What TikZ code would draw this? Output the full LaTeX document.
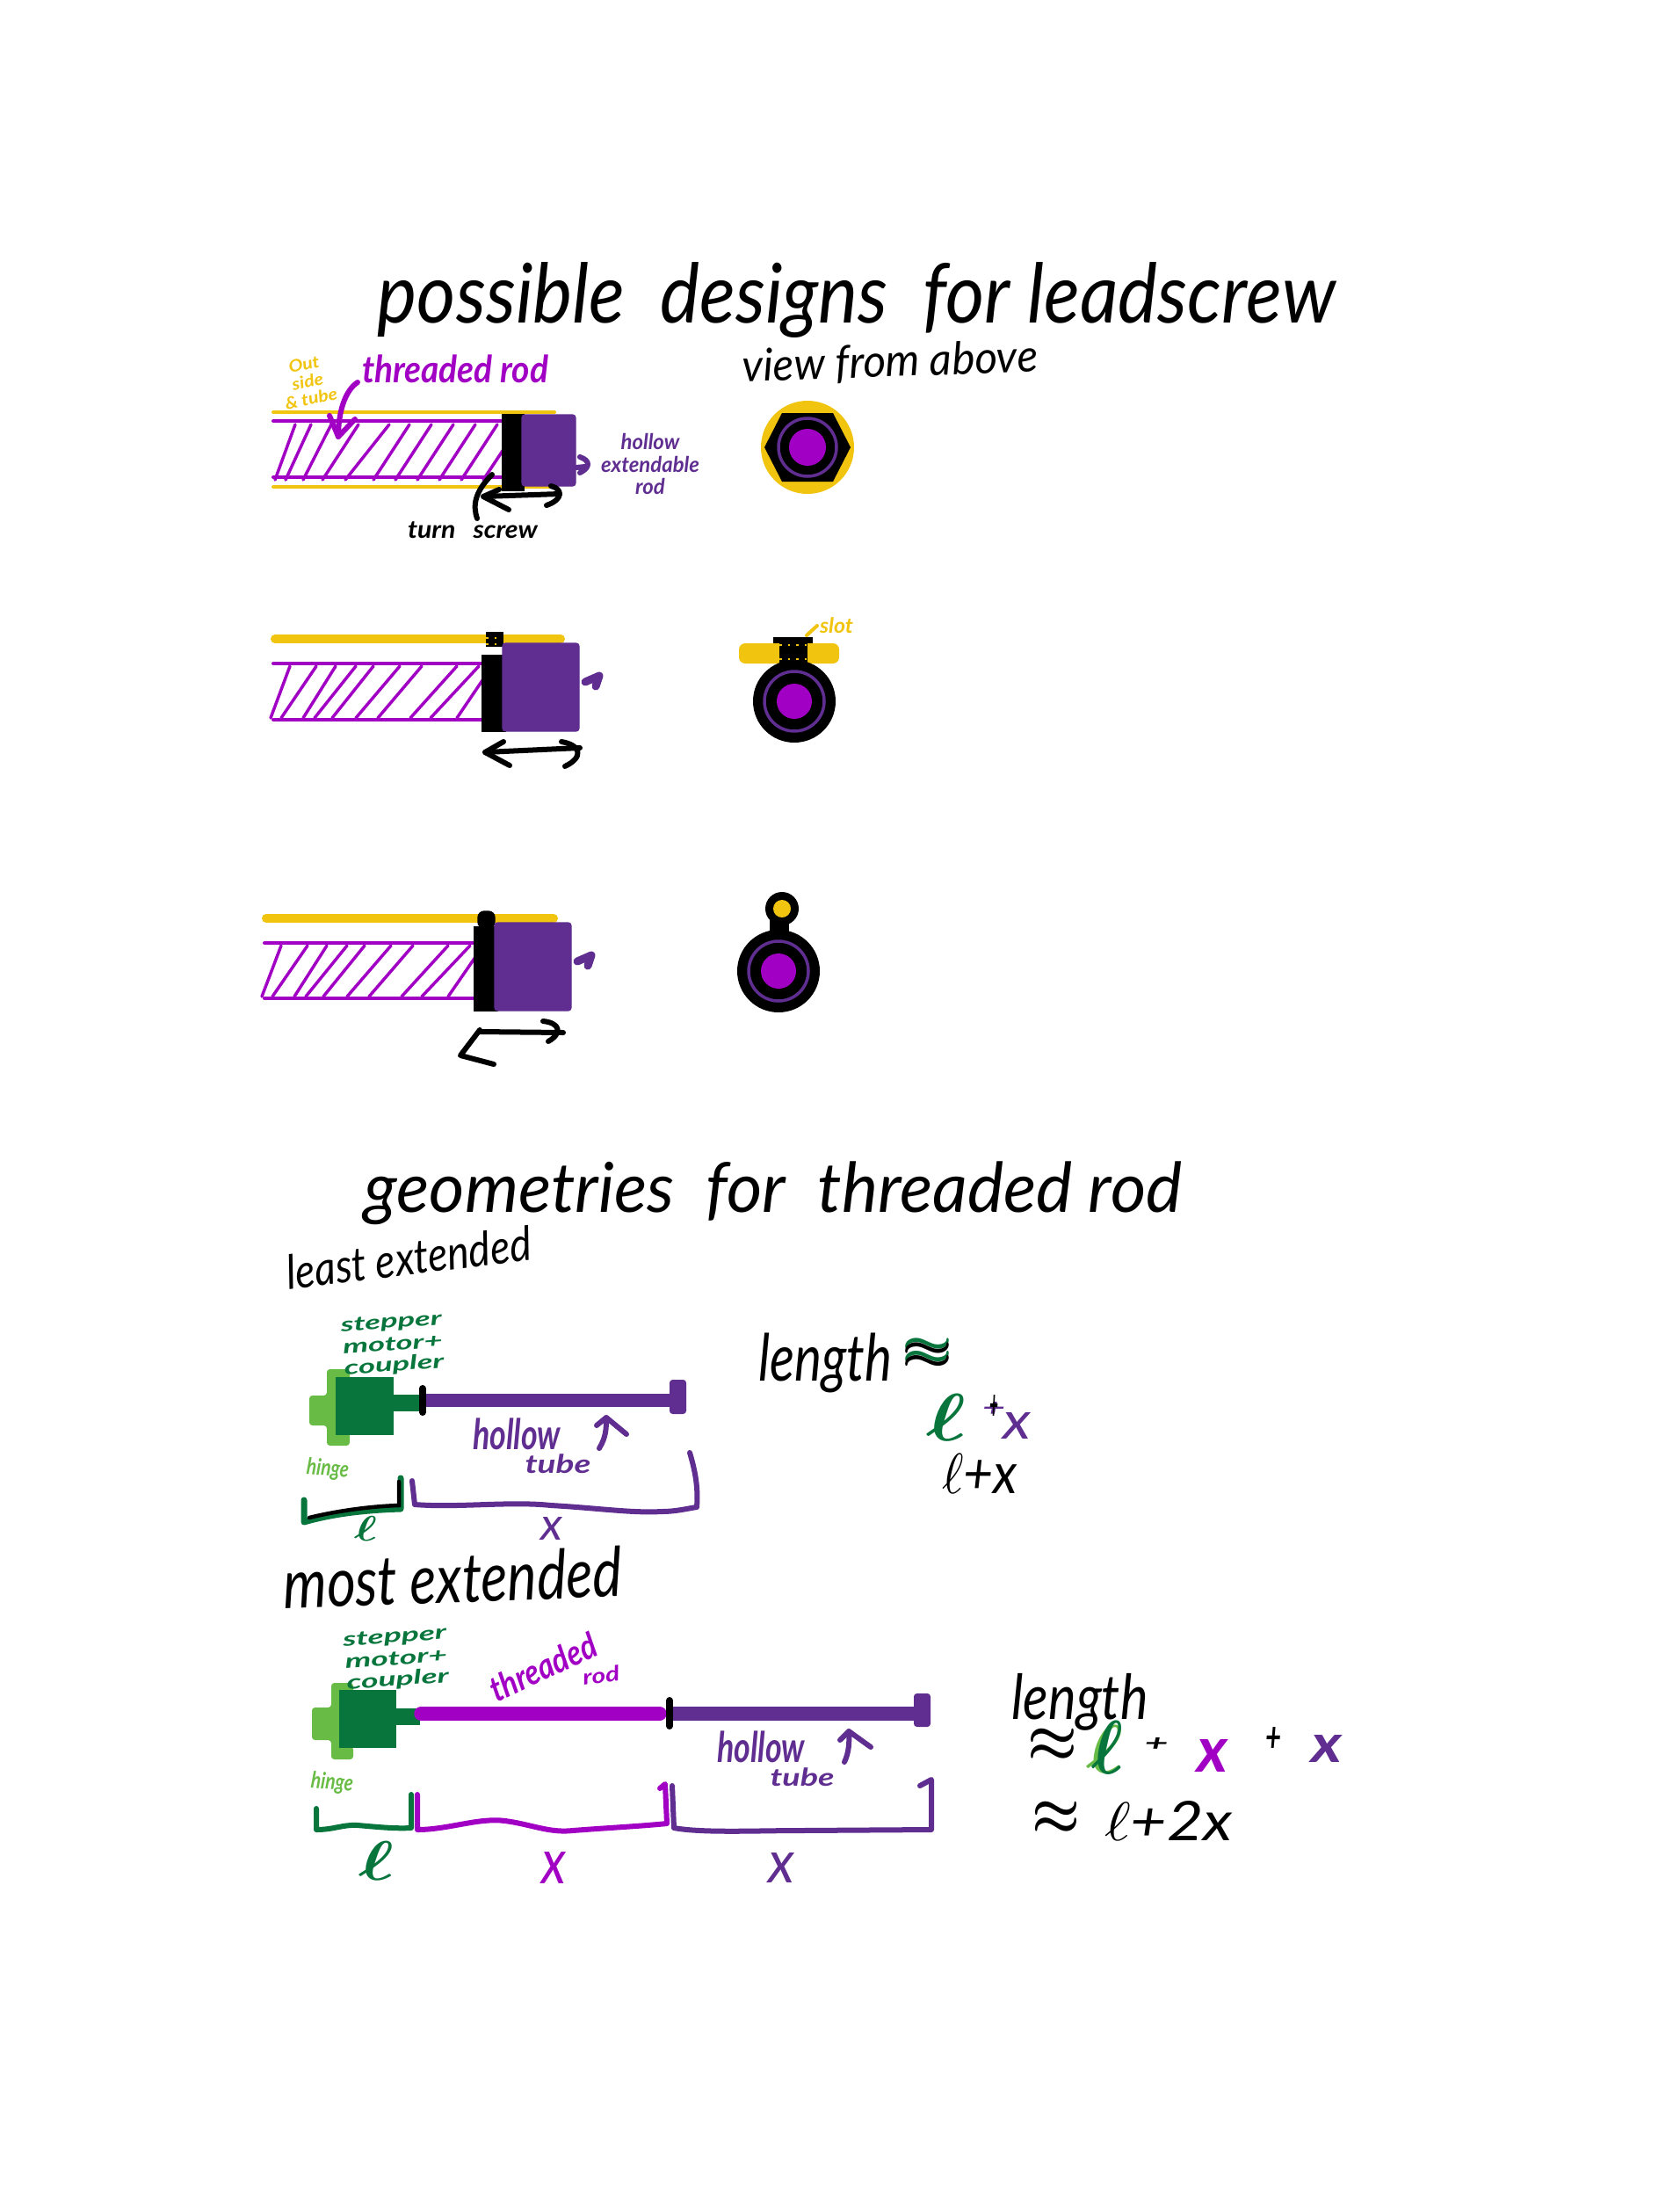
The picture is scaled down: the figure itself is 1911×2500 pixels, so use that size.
\documentclass[tikz,border=0pt]{standalone}
\usepackage{graphicx}
\usepackage{fontspec}
\setmainfont{Lato}
\newlength\pxu
\setlength\pxu{0.01cm}
\def\ink#1#2#3{\resizebox*{#1\pxu}{#2\pxu}{\itshape #3}}
\def\inkb#1#2#3{\resizebox*{#1\pxu}{#2\pxu}{\bfseries\itshape\boldmath #3}}
\definecolor{ochre}{HTML}{F1C40F}
\definecolor{rodviolet}{HTML}{A100C4}
\definecolor{hollowpurple}{HTML}{5F2E90}
\definecolor{motorgreen}{HTML}{08763C}
\definecolor{hingegreen}{HTML}{68BC45}
\tikzset{
	scrawl/.style={inner sep=0pt, outer sep=0pt, text=black},
	pen/.style={line width=0.6mm, line cap=round, line join=round},
	thin pen/.style={line width=0.4mm, line cap=round, line join=round},
	hatch/.style={line width=0.35mm, line cap=round, color=rodviolet},
}
\begin{document}
\begin{tikzpicture}[x=0.01cm, y=-0.01cm]
	\useasboundingbox (0, 0) rectangle (1911, 2500);
	
	%%%%% titles %%%%%
	\node[scrawl] (title1) at (975, 342) {\ink{1090}{86}{possible\ \ designs\ \ for\ leadscrew}};
	\node[scrawl, rotate=2] (viewabove) at (1013, 413) {\ink{336}{44}{view from above}};
	\node[scrawl] (title2) at (880, 1358) {\ink{930}{72}{geometries\ \ for\ \ threaded rod}};
	\node[scrawl, rotate=7] (leastext) at (465, 1431) {\ink{280}{40}{least extended}};
	\node[scrawl, rotate=2] (mostext) at (515, 1795) {\ink{385}{58}{most extended}};
	
	%%%%% design 1 %%%%%
	\draw[thin pen, ochre] (311, 469) -- (631, 469);
	\draw[thin pen, ochre] (311, 554) -- (625, 554);
	\draw[thin pen, rodviolet] (311, 479) -- (575, 479);
	\draw[thin pen, rodviolet] (311, 543) -- (575, 543);
	\foreach \a/\b in {313/336, 325/354, 345/377, 367/408, 393/443, 425/466, 450/491, 475/516, 500/541, 525/566, 550/592}
		\draw[hatch] (\a, 546) -- (\b, 483);
	\draw[fill=black] (572, 472) rectangle (596, 558);
	\draw[fill=hollowpurple, hollowpurple, rounded corners=1pt] (594, 472) rectangle (655, 553);
	\draw[pen, hollowpurple] (656, 532) -- (666, 531) (660, 520) .. controls (672, 524) and (672, 532) .. (660, 538);
	\draw[pen, rodviolet] (407, 435) .. controls (392, 445) and (385, 470) .. (385, 497);
	\draw[pen, rodviolet] (375, 473) -- (385, 497) -- (404, 477);
	\draw[pen] (560, 540) .. controls (540, 560) and (538, 575) .. (543, 590);
	\draw[pen] (568, 557) -- (550, 565) -- (579, 580);
	\draw[pen] (550, 565) -- (637, 562);
	\draw[pen] (627, 553) .. controls (640, 556) and (642, 568) .. (622, 575);
	\draw[fill=ochre, draw=none] (919, 509) circle (53);
	\draw[fill=black, draw=none] (870, 509) -- (890, 470) -- (948, 470) -- (968, 509) -- (948, 548) -- (890, 548) -- cycle;
	\draw[line width=0.35mm, hollowpurple] (919, 509) circle (33);
	\draw[fill=rodviolet, draw=none] (919, 509) circle (21);
	\node[scrawl, text=ochre, rotate=12] (outtube) at (350, 434) {\inkb{60}{54}{\shortstack{Out\\side\\\& tube}}};
	\node[scrawl, text=rodviolet] (rod1) at (518, 420) {\inkb{212}{32}{threaded rod}};
	\node[scrawl] (turn) at (538, 603) {\inkb{148}{19}{turn\ \ \ screw}};
	\node[scrawl, text=hollowpurple] (hollow1) at (740, 528) {\inkb{112}{70}{\shortstack{hollow\\extendable\\rod}}};
	
	%%%%% design 2 %%%%%
	\draw[line width=1mm, line cap=round, ochre] (313, 727) -- (638, 727);
	\draw[thin pen, rodviolet] (311, 755) -- (550, 755);
	\draw[thin pen, rodviolet] (311, 819) -- (550, 819);
	\foreach \a/\b in {308/330, 320/360, 345/382, 358/405, 378/425, 405/455, 430/480, 467/520, 490/545, 520/560}
		\draw[hatch] (\a, 817) -- (\b, 758);
	\draw[fill=black] (549, 746) rectangle (575, 832);
	\draw[fill=black] (554, 720) rectangle (572, 735);
	\draw[fill=hollowpurple, hollowpurple, rounded corners=1pt] (572, 732) rectangle (659, 832);
	\draw[dotted, line width=0.25mm, ochre] (553, 726) -- (572, 726) (553, 733) -- (572, 733);
	\draw[pen, hollowpurple, line width=0.9mm] (666, 776) -- (682, 769) -- (678, 781);
	\draw[pen] (573, 844) -- (552, 856) -- (580, 871);
	\draw[pen] (552, 856) -- (660, 851);
	\draw[pen] (639, 844) .. controls (662, 848) and (664, 862) .. (643, 872);
	\draw[fill=ochre, draw=none, rounded corners=2pt] (841, 732) rectangle (955, 755);
	\draw[fill=black, draw=none] (904, 798) circle (47);
	\draw[line width=0.35mm, hollowpurple] (904, 798) circle (34);
	\draw[fill=rodviolet, draw=none] (904, 798) circle (20);
	\draw[fill=black, draw=none] (887, 730) rectangle (919, 757);
	\draw[fill=black, draw=none] (880, 725) rectangle (925, 732);
	\draw[dotted, line width=0.25mm, ochre] (887, 734) -- (919, 734) (887, 750) -- (919, 750);
	\draw[thin pen, ochre] (930, 712) -- (918, 723);
	\node[scrawl, text=ochre] (slot) at (952, 712) {\inkb{38}{18}{slot}};
	
	%%%%% design 3 %%%%%
	\draw[line width=1mm, line cap=round, ochre] (303, 1045) -- (630, 1045);
	\draw[thin pen, rodviolet] (301, 1073) -- (540, 1073);
	\draw[thin pen, rodviolet] (301, 1136) -- (540, 1136);
	\foreach \a/\b in {298/320, 310/350, 335/372, 348/395, 368/415, 395/445, 420/470, 457/510, 480/535, 510/550}
		\draw[hatch] (\a, 1134) -- (\b, 1076);
	\draw[fill=black] (540, 1055) rectangle (566, 1150);
	\draw[fill=black, rounded corners=2pt] (544, 1037) rectangle (563, 1056);
	\draw[fill=hollowpurple, hollowpurple, rounded corners=1pt] (563, 1050) rectangle (650, 1150);
	\draw[pen, hollowpurple, line width=0.9mm] (657, 1094) -- (673, 1087) -- (669, 1099);
	\draw[pen] (618, 1162) .. controls (638, 1164) and (640, 1176) .. (624, 1185);
	\draw[pen] (546, 1174) -- (641, 1175);
	\draw[pen] (546, 1172) -- (524, 1201) -- (562, 1211);
	\draw[fill=black, draw=none] (886, 1105) circle (47);
	\draw[line width=0.35mm, hollowpurple] (886, 1105) circle (34);
	\draw[fill=rodviolet, draw=none] (886, 1105) circle (20);
	\draw[fill=black, draw=none] (876, 1045) rectangle (898, 1064);
	\draw[fill=black, draw=none] (890, 1034) circle (19);
	\draw[fill=ochre, draw=none] (890, 1034) circle (10);
	
	%%%%% least extended %%%%%
	\draw[fill=hingegreen, draw=none, rounded corners=1pt] (372, 1558) -- (398, 1558) -- (398, 1572) -- (382, 1572) -- (382, 1630) -- (398, 1630) -- (398, 1645) -- (372, 1645) -- (372, 1622) -- (352, 1622) -- (352, 1588) -- (372, 1588) -- cycle;
	\draw[fill=motorgreen, draw=none] (382, 1567) rectangle (448, 1633);
	\draw[fill=motorgreen, draw=none] (448, 1587) rectangle (480, 1606);
	\draw[fill=hollowpurple, draw=none] (485, 1586) rectangle (765, 1601);
	\draw[fill=hollowpurple, draw=none, rounded corners=1pt] (762, 1570) rectangle (781, 1609);
	\draw[line width=0.8mm, line cap=round] (481, 1580) -- (481, 1607);
	\node[scrawl, text=motorgreen, rotate=4] (motor1) at (447, 1530) {\inkb{115}{68}{\shortstack{stepper\\motor+\\coupler}}};
	\node[scrawl, text=hingegreen, rotate=-5] (hinge1) at (373, 1672) {\inkb{48}{24}{hinge}};
	\node[scrawl, text=hollowpurple] (hollow2) at (588, 1632) {\inkb{100}{36}{hollow}};
	\node[scrawl, text=hollowpurple] (tube2) at (635, 1666) {\inkb{75}{22}{tube}};
	\draw[pen, hollowpurple] (682, 1648) .. controls (690, 1635) and (690, 1625) .. (690, 1613) -- (713, 1632);
	\draw[pen, hollowpurple] (679, 1622) -- (690, 1613);
	\draw[pen, motorgreen, line width=0.7mm] (346, 1707) -- (346, 1732) .. controls (380, 1722) and (420, 1718) .. (456, 1717) -- (456, 1682);
	\draw[line width=0.45mm, line cap=round] (352, 1727) .. controls (380, 1720) and (420, 1714) .. (454, 1713) -- (454, 1686);
	\draw[pen, hollowpurple] (469, 1685) -- (472, 1712) .. controls (520, 1716) and (580, 1708) .. (627, 1713) .. controls (680, 1716) and (720, 1722) .. (753, 1720) .. controls (770, 1720) and (785, 1716) .. (793, 1715) .. controls (795, 1690) and (790, 1670) .. (785, 1653);
	\node[scrawl, text=motorgreen] (ell1) at (416, 1739) {\inkb{26}{28}{$\ell$}};
	\node[scrawl, text=hollowpurple] (x1) at (628, 1739) {\ink{25}{26}{x}};
	\node[scrawl] (len1) at (939, 1551) {\ink{152}{68}{length}};
	\node[scrawl, text=motorgreen] (apx1g) at (1055, 1538) {\inkb{58}{30}{$\approx$}};
	\node[scrawl] (apx1) at (1055, 1543) {\inkb{58}{30}{$\approx$}};
	\node[scrawl, text=motorgreen] (ell2) at (1077, 1613) {\inkb{45}{53}{$\ell$}};
	\node[scrawl, text=hollowpurple] (plus1p) at (1131, 1603) {\inkb{26}{16}{+}};
	\node[scrawl] (plus1) at (1131, 1601) {\inkb{10}{28}{+}};
	\node[scrawl, text=hollowpurple] (x2) at (1157, 1622) {\ink{32}{30}{x}};
	\node[scrawl] (lx) at (1115, 1677) {\ink{86}{45}{$\ell$+x}};
	
	%%%%% most extended %%%%%
	\draw[fill=hingegreen, draw=none, rounded corners=1pt] (377, 1915) -- (402, 1915) -- (402, 1929) -- (387, 1929) -- (387, 1987) -- (402, 1987) -- (402, 2002) -- (377, 2002) -- (377, 1980) -- (355, 1980) -- (355, 1943) -- (377, 1943) -- cycle;
	\draw[fill=motorgreen, draw=none] (386, 1923) rectangle (451, 1989);
	\draw[fill=motorgreen, draw=none] (451, 1944) rectangle (478, 1963);
	\draw[line width=1.55mm, line cap=round, rodviolet] (479, 1950) -- (751, 1950);
	\draw[fill=hollowpurple, draw=none] (765, 1942) rectangle (1042, 1958);
	\draw[fill=hollowpurple, draw=none, rounded corners=1pt] (1040, 1927) rectangle (1059, 1965);
	\draw[line width=0.8mm, line cap=round] (762, 1935) -- (762, 1964);
	\node[scrawl, text=motorgreen, rotate=4] (motor2) at (451, 1888) {\inkb{118}{68}{\shortstack{stepper\\motor+\\coupler}}};
	\node[scrawl, text=rodviolet, rotate=25] (threaded) at (618, 1897) {\inkb{130}{30}{threaded}};
	\node[scrawl, text=rodviolet, rotate=8] (rod2) at (684, 1906) {\inkb{42}{18}{rod}};
	\node[scrawl, text=hingegreen, rotate=-5] (hinge2) at (378, 2029) {\inkb{48}{24}{hinge}};
	\node[scrawl, text=hollowpurple] (hollow3) at (866, 1988) {\inkb{100}{36}{hollow}};
	\node[scrawl, text=hollowpurple] (tube3) at (913, 2022) {\inkb{73}{21}{tube}};
	\draw[pen, hollowpurple] (961, 2005) .. controls (966, 1995) and (967, 1982) .. (966, 1970) -- (991, 1988);
	\draw[pen, hollowpurple] (956, 1980) -- (966, 1970);
	\draw[pen, motorgreen] (360, 2058) -- (360, 2082) .. controls (380, 2082) and (390, 2076) .. (407, 2077) .. controls (430, 2079) and (450, 2081) .. (468, 2080) -- (468, 2042);
	\draw[pen, rodviolet] (475, 2042) -- (475, 2082) .. controls (510, 2082) and (545, 2068) .. (575, 2072) .. controls (605, 2076) and (625, 2086) .. (652, 2083) .. controls (690, 2080) and (730, 2078) .. (759, 2075) -- (757, 2030) -- (751, 2035);
	\draw[pen, hollowpurple] (765, 2032) -- (767, 2080) .. controls (800, 2086) and (860, 2083) .. (912, 2083) -- (1060, 2082) -- (1060, 2025) -- (1047, 2032);
	\node[scrawl, text=motorgreen] (ell3) at (428, 2117) {\inkb{40}{44}{$\ell$}};
	\node[scrawl, text=rodviolet] (x3) at (630, 2125) {\ink{28}{36}{x}};
	\node[scrawl, text=hollowpurple] (x4) at (889, 2125) {\ink{30}{34}{x}};
	\node[scrawl] (len2) at (1229, 1937) {\ink{155}{65}{length}};
	\node[scrawl] (apx2) at (1198, 1986) {\inkb{57}{38}{$\approx$}};
	\node[scrawl, text=hingegreen] (ell4g) at (1257, 1990) {\inkb{42}{54}{$\ell$}};
	\node[scrawl, text=motorgreen] (ell4) at (1260, 1988) {\inkb{36}{60}{$\ell$}};
	\node[scrawl] (plus2) at (1316, 1985) {\inkb{27}{15}{+}};
	\node[scrawl, text=rodviolet] (x5) at (1380, 1998) {\inkb{35}{37}{x}};
	\node[scrawl] (plus3) at (1449, 1979) {\inkb{18}{28}{+}};
	\node[scrawl, text=hollowpurple] (x6) at (1510, 1990) {\inkb{35}{31}{x}};
	\node[scrawl] (apx3) at (1202, 2069) {\inkb{55}{38}{$\approx$}};
	\node[scrawl] (lenresult) at (1330, 2072) {\ink{146}{45}{$\ell$+2x}};
\end{tikzpicture}
\end{document}
